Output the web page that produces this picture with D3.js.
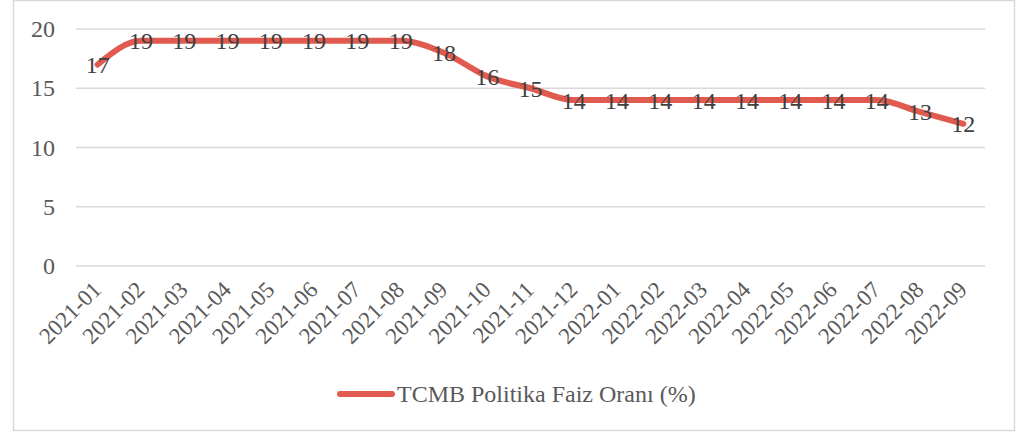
<!DOCTYPE html>
<html>
<head>
<meta charset="utf-8">
<title>TCMB Politika Faiz Oranı</title>
<script src="https://cdn.jsdelivr.net/npm/d3@7"></script>
<style>
body { margin:0; background:#fff; }
text { font-family:"Liberation Serif","Times New Roman",serif; }
</style>
</head>
<body>
<svg id="chart" width="1029" height="435"></svg>
<script>
// veriler
var months = ["2021-01","2021-02","2021-03","2021-04","2021-05","2021-06","2021-07","2021-08","2021-09","2021-10",
              "2021-11","2021-12","2022-01","2022-02","2022-03","2022-04","2022-05","2022-06","2022-07","2022-08","2022-09"];
var rates = [17,19,19,19,19,19,19,19,18,16,15,14,14,14,14,14,14,14,14,13,12];
var yTicks = [0,5,10,15,20];
var seriesName = "TCMB Politika Faiz Oranı (%)";

var svg = d3.select("#chart"),
    pLeft = 76, pRight = 985, pTop = 29, pBottom = 266,
    lineColor = "#E05A4F";

// çerçeve
svg.append("rect").attr("x",13.5).attr("y",0.5).attr("width",1001).attr("height",430)
  .attr("fill","#fff").attr("stroke","#D9D9D9").attr("stroke-width",1.5);

var x = d3.scaleBand().domain(months).range([pLeft, pRight]);
var y = d3.scaleLinear().domain([0,20]).range([pBottom, pTop]);

// yatay ızgara
svg.append("g").selectAll("line").data(yTicks).enter().append("line")
  .attr("x1",pLeft).attr("x2",pRight)
  .attr("y1",function(d){ return y(d); }).attr("y2",function(d){ return y(d); })
  .attr("stroke","#D9D9D9").attr("stroke-width",1.5);

// y ekseni
var yAxis = svg.append("g").attr("transform","translate(" + (pLeft-21) + ",0)")
  .call(d3.axisLeft(y).tickValues(yTicks).tickSize(0).tickPadding(0));
yAxis.select(".domain").remove();
yAxis.selectAll("text").attr("font-size",24).attr("fill","#595959")
  .attr("font-family","Liberation Serif, serif");

// x ekseni
var xAxis = svg.append("g").attr("transform","translate(0," + pBottom + ")")
  .call(d3.axisBottom(x).tickSize(0).tickPadding(0));
xAxis.select(".domain").remove();
xAxis.selectAll("text")
  .attr("font-size",23).attr("fill","#595959").attr("font-family","Liberation Serif, serif")
  .attr("text-anchor","end").attr("dy",0)
  .attr("transform","translate(5,25) rotate(-45)");

// çizgi
var line = d3.line()
  .x(function(d,i){ return x(months[i]) + x.bandwidth()/2; })
  .y(function(d){ return y(d); })
  .curve(d3.curveMonotoneX);

svg.append("path").datum(rates)
  .attr("d", line).attr("fill","none")
  .attr("stroke",lineColor).attr("stroke-width",6)
  .attr("stroke-linecap","round").attr("stroke-linejoin","round");

// veri etiketleri
svg.append("g").selectAll("text").data(rates).enter().append("text")
  .attr("x",function(d,i){ return x(months[i]) + x.bandwidth()/2; })
  .attr("y",function(d){ return y(d); })
  .attr("dy","0.35em")
  .attr("text-anchor","middle")
  .attr("font-size",24).attr("fill","#404040")
  .text(function(d){ return d; });

// lejant
var lg = svg.append("g");
lg.append("line").attr("x1",340).attr("x2",392).attr("y1",394).attr("y2",394)
  .attr("stroke",lineColor).attr("stroke-width",6).attr("stroke-linecap","round");
lg.append("text").attr("x",397).attr("y",394).attr("dy","0.35em")
  .attr("font-size",24).attr("fill","#595959").text(seriesName);
</script>
</body>
</html>
